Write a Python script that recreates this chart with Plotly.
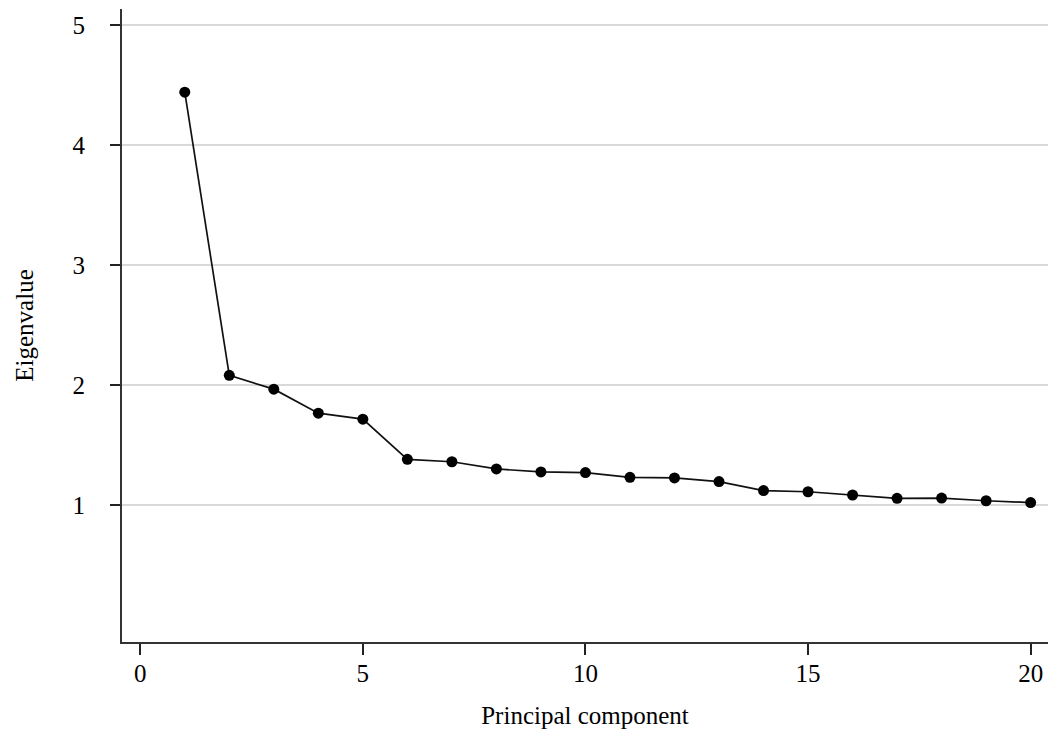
import plotly.graph_objects as go

components = list(range(1, 21))
eigenvalues = [4.44, 2.08, 1.965, 1.765, 1.715, 1.38, 1.36, 1.30, 1.275, 1.27,
               1.23, 1.225, 1.195, 1.12, 1.11, 1.083, 1.055, 1.057, 1.035, 1.02]
x_ticks = [0, 5, 10, 15, 20]
y_ticks = [1, 2, 3, 4, 5]

FONT = "Liberation Serif"

fig = go.Figure()
fig.add_trace(go.Scatter(
    x=components, y=eigenvalues, mode="lines+markers",
    line=dict(color="#111111", width=1.7),
    marker=dict(color="#000000", size=11),
    showlegend=False,
))

fig.update_layout(
    width=1048, height=740,
    margin=dict(l=122, r=0, t=9, b=98),
    paper_bgcolor="white", plot_bgcolor="white",
    font=dict(family=FONT, size=25, color="#000000"),
    xaxis=dict(
        range=[-0.41, 20.39], tickvals=x_ticks, showgrid=False, zeroline=False,
        showline=True, linecolor="#333333", linewidth=2,
        ticks="outside", ticklen=11, tickwidth=1.5, tickcolor="#222222",
        ticklabelstandoff=-3,
        title=dict(text="Principal component", standoff=20, font=dict(size=25)),
    ),
    yaxis=dict(
        range=[-0.142, 5.133], tickvals=y_ticks, showgrid=True,
        gridcolor="#d9d9d9", gridwidth=2, zeroline=False,
        showline=True, linecolor="#333333", linewidth=2,
        ticks="outside", ticklen=10, tickwidth=1.5, tickcolor="#222222",
        ticklabelstandoff=20,
        title=dict(text="Eigenvalue", standoff=32, font=dict(size=25)),
    ),
)

fig.write_html("out.html")
